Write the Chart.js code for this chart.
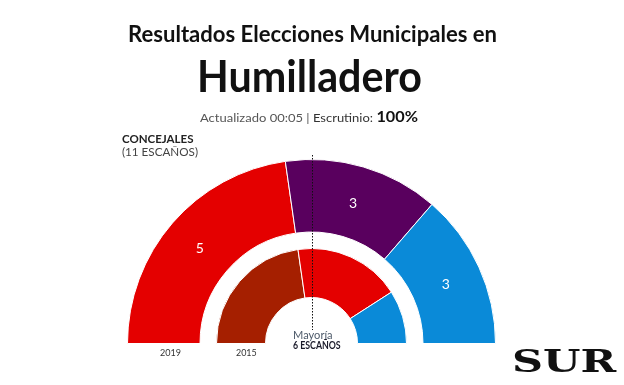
<!DOCTYPE html>
<html>
<head>
<meta charset="utf-8">
<script src="https://cdn.jsdelivr.net/npm/chart.js@4"></script>
<style>
  html, body { margin: 0; padding: 0; background: #fff; }
  #wrap { position: relative; width: 624px; height: 385px; overflow: hidden; }
  #chart { position: absolute; left: 0; top: 0; }
  .txt { position: absolute; white-space: nowrap; font-family: Lato, sans-serif; line-height: 1; transform-origin: 0 0; }
</style>
</head>
<body>
<div id="wrap">
  <canvas id="chart" width="624" height="385"></canvas>
  <div class="txt" id="t1" style="font-weight:700;font-size:23px;color:#111">Resultados Elecciones Municipales en</div>
  <div class="txt" id="t2" style="font-weight:700;font-size:44px;color:#111">Humilladero</div>
  <div class="txt" id="t3" style="font-size:12px;color:#555">Actualizado 00:05 | <span style="color:#333">Escrutinio:</span> <b style="font-size:15px;color:#111">100%</b></div>
  <div class="txt" id="t4" style="font-weight:700;font-size:11px;color:#222">CONCEJALES</div>
  <div class="txt" id="t5" style="font-size:11px;color:#444"></div>
  <div class="txt" id="y0" style="font-size:10px;color:#333"></div>
  <div class="txt" id="y1" style="font-size:10px;color:#333"></div>
  <div class="txt" id="m1" style="font-size:11px;color:#4d5a6a">Mayoría</div>
  <div class="txt" id="m2" style="font-weight:700;font-size:11px;color:#1a1a2a"></div>
  <div class="txt" id="logo" style="font-family:'DejaVu Serif',serif;font-weight:700;font-size:31px;color:#111">SUR</div>
</div>
<script>
// datos de la gráfica
const years = ['2019', '2015'];
const seats2019 = [5, 3, 3];
const seats2015 = [5, 4, 2];
const totalSeats = 11;
const majority = 6;

const colors2019 = ['#e40000', '#59005e', '#0a8ad8'];
const colors2015 = ['#a51f00', '#e40000', '#0a8ad8'];

document.getElementById('t5').textContent = '(' + totalSeats + ' ESCAÑOS)';
document.getElementById('m2').textContent = majority + ' ESCAÑOS';
document.getElementById('y0').textContent = years[0];
document.getElementById('y1').textContent = years[1];

// coloca un texto por su línea base y lo ajusta al ancho
const place = (id, left, baseline, width) => {
  const el = document.getElementById(id);
  const mark = document.createElement('span');
  mark.style.cssText = 'display:inline-block;width:0;height:0;vertical-align:baseline';
  el.appendChild(mark);
  el.style.left = left + 'px';
  el.style.top = '0px';
  const base = mark.getBoundingClientRect().bottom - el.getBoundingClientRect().top;
  const w = el.getBoundingClientRect().width;
  el.style.top = (baseline - base) + 'px';
  el.style.transform = 'scaleX(' + (width / w) + ')';
};

place('t1', 128, 41.7, 369);
place('t2', 197, 91.7, 225);
place('t3', 200, 121.7, 218);
place('t4', 121.5, 143.3, 71.5);
place('t5', 121.5, 155.7, 76);
place('y0', 160, 356, 21);
place('y1', 236, 356, 20.7);
place('m1', 292.7, 339, 39.6);
place('m2', 293.3, 349, 47.7);
place('logo', 511.7, 372.3, 104.3);

// números de escaños y línea de mayoría
const labelsPlugin = {
  id: 'seatLabels',
  afterDatasetsDraw(chart) {
    const ctx = chart.ctx;
    const meta = chart.getDatasetMeta(0);
    ctx.save();
    ctx.fillStyle = '#fff';
    ctx.font = '14px Lato';
    ctx.textAlign = 'center';
    ctx.textBaseline = 'middle';
    meta.data.forEach((arc, i) => {
      const p = arc.tooltipPosition();
      ctx.fillText(String(seats2019[i]), p.x, p.y + 2);
    });
    const cx = meta.data[0].x;
    ctx.strokeStyle = '#111';
    ctx.lineWidth = 1;
    ctx.setLineDash([1.5, 1.5]);
    ctx.beginPath();
    ctx.moveTo(Math.round(cx) + 0.5, 155);
    ctx.lineTo(Math.round(cx) + 0.5, 330);
    ctx.stroke();
    ctx.restore();
  }
};

new Chart(document.getElementById('chart').getContext('2d'), {
  type: 'doughnut',
  data: {
    labels: ['a', 'b', 'c'],
    datasets: [
      { data: seats2019, backgroundColor: colors2019, borderColor: '#fff', borderWidth: 1, weight: 72.5 },
      { data: [totalSeats], backgroundColor: 'rgba(0,0,0,0)', borderWidth: 0, weight: 16.5 },
      { data: seats2015, backgroundColor: colors2015, borderColor: '#fff', borderWidth: 1, weight: 49 }
    ]
  },
  options: {
    responsive: false,
    animation: false,
    rotation: -90,
    circumference: 180,
    cutout: '25%',
    layout: { padding: { left: 127, right: 128, top: 159, bottom: 41 } },
    plugins: { legend: { display: false }, tooltip: { enabled: false } }
  },
  plugins: [labelsPlugin]
});
</script>
</body>
</html>
